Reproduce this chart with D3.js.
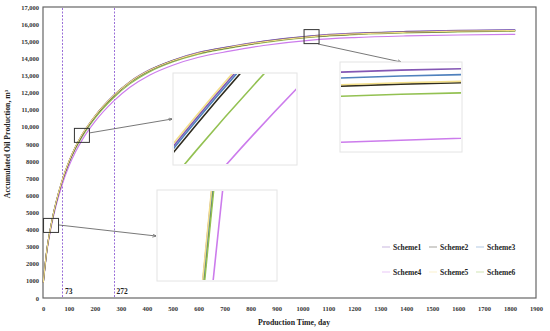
<!DOCTYPE html>
<html>
<head>
<meta charset="utf-8">
<script src="https://cdn.jsdelivr.net/npm/d3@7"></script>
<style>
  body { margin: 0; background: #fff; }
  svg { display: block; font-family: "Liberation Serif", "Times New Roman", serif; font-weight: bold; }
</style>
</head>
<body>
<div id="vis"></div>
<script>
// chart data
const DAYS = [1, 15, 31, 50, 73, 100, 125, 150, 200, 272, 335, 412, 500, 600, 719, 850, 1035, 1200, 1400, 1600, 1820];
const SCHEME1 = [900, 2810, 4255, 5570, 6825, 7975, 8825, 9525, 10630, 11835, 12638, 13340, 13892, 14345, 14687, 15009, 15320, 15471, 15572, 15632, 15672];
const SCHEME2 = [900, 2800, 4240, 5550, 6800, 7950, 8800, 9500, 10600, 11800, 12600, 13300, 13850, 14300, 14640, 14960, 15270, 15420, 15520, 15580, 15620];
const SCHEME3 = [900, 2810, 4250, 5565, 6815, 7965, 8815, 9515, 10618, 11820, 12622, 13324, 13875, 14326, 14667, 14988, 15299, 15449, 15550, 15610, 15650];
const SCHEME4 = [880, 2720, 4110, 5380, 6590, 7710, 8530, 9210, 10300, 11500, 12310, 13030, 13600, 14065, 14418, 14750, 15070, 15215, 15310, 15365, 15400];
const SCHEME5 = [900, 2815, 4260, 5580, 6835, 7985, 8835, 9535, 10630, 11825, 12620, 13315, 13862, 14310, 14648, 14966, 15275, 15425, 15525, 15585, 15625];
const SCHEME6 = [900, 2795, 4230, 5520, 6750, 7880, 8715, 9400, 10495, 11700, 12510, 13225, 13790, 14250, 14597, 14921, 15234, 15385, 15486, 15546, 15586];

const SERIES_NAMES = ["Scheme1", "Scheme2", "Scheme3", "Scheme4", "Scheme5", "Scheme6"];
const SERIES_VALUES = [SCHEME1, SCHEME2, SCHEME3, SCHEME4, SCHEME5, SCHEME6];
const SERIES_COLORS = ["#8457b4", "#2e2b1e", "#4f81bd", "#cc7cec", "#f3df8a", "#93c152"];
const DRAW_ORDER = [5, 3, 2, 0, 1, 4];

const X_TICKS = [0, 100, 200, 300, 400, 500, 600, 700, 800, 900, 1000, 1100, 1200, 1300, 1400, 1500, 1600, 1700, 1800, 1900];
const Y_TICKS = [0, 1000, 2000, 3000, 4000, 5000, 6000, 7000, 8000, 9000, 10000, 11000, 12000, 13000, 14000, 15000, 16000, 17000];
const MARK_DAYS = [73, 272];
const ZOOM_DAYS = [31, 150, 1035];

// layout
const FRAME_WIDTH = 550;
const FRAME_HEIGHT = 331;
const MARGINS = {left: 43, right: 14, top: 7, bottom: 33};
const VIS_WIDTH = FRAME_WIDTH - MARGINS.left - MARGINS.right;
const VIS_HEIGHT = FRAME_HEIGHT - MARGINS.top - MARGINS.bottom;

const X_SCALE = d3.scaleLinear().domain([0, 1900]).range([MARGINS.left, MARGINS.left + VIS_WIDTH]);
const Y_SCALE = d3.scaleLinear().domain([0, 17000]).range([MARGINS.top + VIS_HEIGHT, MARGINS.top]);

const ROWS = DAYS.map((d, i) => ({day: d, vals: SERIES_VALUES.map(s => s[i])}));

const svg = d3.select("#vis").append("svg")
    .attr("width", FRAME_WIDTH)
    .attr("height", FRAME_HEIGHT);

svg.append("defs").append("marker")
    .attr("id", "arrow")
    .attr("viewBox", "0 0 10 10")
    .attr("refX", 9).attr("refY", 5)
    .attr("markerWidth", 5).attr("markerHeight", 5)
    .attr("orient", "auto")
  .append("path")
    .attr("d", "M0,1 L10,5 L0,9")
    .attr("fill", "none")
    .attr("stroke", "#555")
    .attr("stroke-width", 1.5);

// axes (labels only)
svg.append("g")
    .attr("transform", "translate(0," + (MARGINS.top + VIS_HEIGHT) + ")")
    .call(d3.axisBottom(X_SCALE).tickValues(X_TICKS).tickSize(0).tickPadding(8).tickFormat(d => d))
    .call(g => g.select(".domain").remove())
    .selectAll("text")
    .attr("font-size", "6.5px")
    .attr("font-family", "Liberation Serif")
    .attr("font-weight", "bold")
    .attr("fill", "#333");

svg.append("g")
    .attr("transform", "translate(" + MARGINS.left + ",0)")
    .call(d3.axisLeft(Y_SCALE).tickValues(Y_TICKS).tickSize(0).tickPadding(4)
        .tickFormat(d => d >= 10000 ? d3.format(",")(d) : d))
    .call(g => g.select(".domain").remove())
    .selectAll("text")
    .attr("font-size", "6.5px")
    .attr("font-family", "Liberation Serif")
    .attr("font-weight", "bold")
    .attr("fill", "#333");

// plot frame
svg.append("rect")
    .attr("x", MARGINS.left)
    .attr("y", MARGINS.top)
    .attr("width", VIS_WIDTH)
    .attr("height", VIS_HEIGHT)
    .attr("fill", "none")
    .attr("stroke", "#666")
    .attr("stroke-width", 1.2);

// marker lines at 73 and 272 days
svg.selectAll(".mark")
    .data(MARK_DAYS)
    .enter()
    .append("line")
    .attr("x1", d => Math.round(X_SCALE(d)) + 0.5).attr("x2", d => Math.round(X_SCALE(d)) + 0.5)
    .attr("y1", MARGINS.top + 1).attr("y2", MARGINS.top + VIS_HEIGHT)
    .attr("stroke", "#9a6fd8")
    .attr("stroke-width", 1)
    .attr("stroke-dasharray", "2,1.5");

svg.selectAll(".markLabel")
    .data(MARK_DAYS)
    .enter()
    .append("text")
    .attr("x", d => X_SCALE(d) + 3)
    .attr("y", MARGINS.top + VIS_HEIGHT - 4)
    .attr("font-size", "7.5px")
    .attr("fill", "#222")
    .text(d => d);

// main curves
function lineFor(xs, ys, i) {
    return d3.line()
        .x(r => xs(r.day))
        .y(r => ys(r.vals[i]))
        .curve(d3.curveMonotoneX);
}

DRAW_ORDER.forEach(i => {
    svg.append("path")
        .datum(ROWS)
        .attr("d", lineFor(X_SCALE, Y_SCALE, i))
        .attr("fill", "none")
        .attr("stroke", SERIES_COLORS[i])
        .attr("stroke-width", 1.2);
});

// zoom boxes, arrows and inset panels
const INSETS = [
    {day: ZOOM_DAYS[0], box: [15, 14], panel: [157, 190, 120, 91], xDom: [21.7, 43.4], yDom: [4175, 4305], from: [59, 225], to: [156, 236]},
    {day: ZOOM_DAYS[1], box: [15, 14], panel: [173, 73, 124, 92], xDom: [145.9, 168.3], yDom: [9346, 9704], from: [89, 133], to: [172, 119]},
    {day: ZOOM_DAYS[2], box: [15, 14], panel: [340, 62, 122, 90], xDom: [1029.5, 1040.5], yDom: [15028, 15349], from: [318, 44], to: [401, 62]}
];

INSETS.forEach((ins, k) => {
    const cx = X_SCALE(ins.day);
    const cy = Y_SCALE(SCHEME2[DAYS.indexOf(ins.day)]);
    svg.append("rect")
        .attr("x", cx - ins.box[0] / 2)
        .attr("y", cy - ins.box[1] / 2)
        .attr("width", ins.box[0])
        .attr("height", ins.box[1])
        .attr("fill", "none")
        .attr("stroke", "#333")
        .attr("stroke-width", 1);

    svg.append("line")
        .attr("x1", ins.from[0]).attr("y1", ins.from[1])
        .attr("x2", ins.to[0]).attr("y2", ins.to[1])
        .attr("stroke", "#555")
        .attr("stroke-width", 0.8)
        .attr("marker-end", "url(#arrow)");

    const [px, py, pw, ph] = ins.panel;
    svg.append("rect")
        .attr("x", px).attr("y", py)
        .attr("width", pw).attr("height", ph)
        .attr("fill", "#fff")
        .attr("stroke", "#e4e4e4")
        .attr("stroke-width", 1);

    svg.append("clipPath")
        .attr("id", "clip" + k)
      .append("rect")
        .attr("x", px + 1).attr("y", py + 1)
        .attr("width", pw - 2).attr("height", ph - 2);

    const xs = d3.scaleLinear().domain(ins.xDom).range([px, px + pw]);
    const ys = d3.scaleLinear().domain(ins.yDom).range([py + ph, py]);
    const g = svg.append("g").attr("clip-path", "url(#clip" + k + ")");
    SERIES_NAMES.forEach((name, i) => {
        g.append("path")
            .datum(ROWS)
            .attr("d", lineFor(xs, ys, i))
            .attr("fill", "none")
            .attr("stroke", SERIES_COLORS[i])
            .attr("stroke-width", 1.6);
    });
});

// legend
const LEG_X = [393, 440, 487];
const LEG_Y = [247, 272];
SERIES_NAMES.forEach((name, i) => {
    const x = LEG_X[i % 3];
    const y = LEG_Y[Math.floor(i / 3)];
    svg.append("line")
        .attr("x1", x - 11).attr("x2", x - 3)
        .attr("y1", y).attr("y2", y)
        .attr("stroke", SERIES_COLORS[i])
        .attr("stroke-opacity", 0.55)
        .attr("stroke-width", 0.8);
    svg.append("text")
        .attr("x", x)
        .attr("y", y + 2.5)
        .attr("font-size", "7.5px")
        .attr("fill", "#222")
        .text(name);
});

// axis titles
svg.append("text")
    .attr("x", 294)
    .attr("y", 325)
    .attr("text-anchor", "middle")
    .attr("font-size", "7.8px")
    .attr("fill", "#222")
    .text("Production Time, day");

svg.append("text")
    .attr("transform", "translate(10,144) rotate(-90)")
    .attr("text-anchor", "middle")
    .attr("font-size", "7.8px")
    .attr("fill", "#222")
    .text("Accumulated Oil Production, m³");
</script>
</body>
</html>
